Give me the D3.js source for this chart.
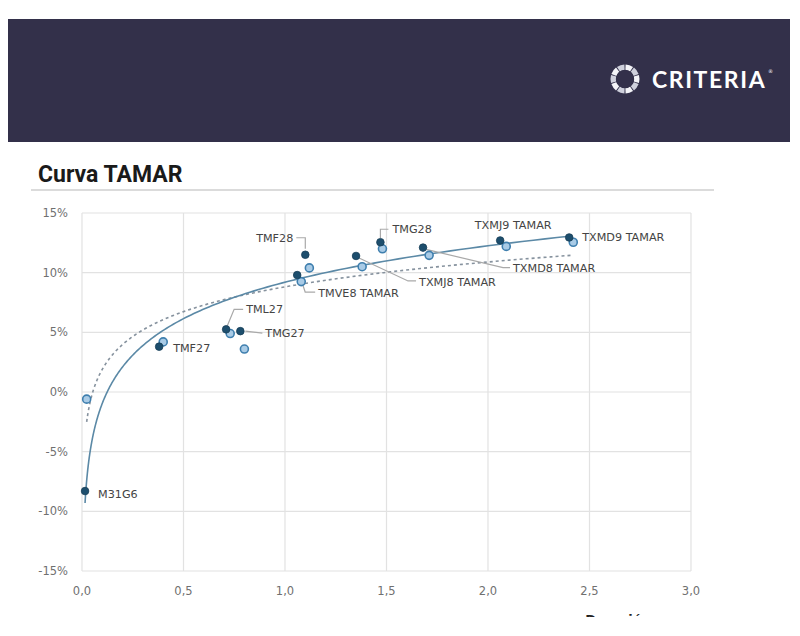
<!DOCTYPE html>
<html>
<head>
    <title>Curva TAMAR</title>
    <script src="https://d3js.org/d3.v7.min.js"></script>
    <style>
        body { margin: 0; background: #fff; }
        text { font-family: "DejaVu Sans", sans-serif; }
        .tick_label { font-size: 11.5px; fill: #707070; }
        .point_label { font-size: 11.2px; fill: #444444; }
        .grid { stroke: #e2e2e2; stroke-width: 1.2; }
        .leader { fill: none; stroke: #a9a9a9; stroke-width: 1.2; }
    </style>
</head>
<body>
<div id="svg_container"></div>
<script>
    const width = 800;
    const height = 636;

    // bond names, same order in both series
    const bond_names = ["M31G6", "TMF27", "TML27", "TMG27", "TMVE8 TAMAR", "TMF28",
                        "TXMJ8 TAMAR", "TMG28", "TXMD8 TAMAR", "TXMJ9 TAMAR", "TXMD9 TAMAR"];

    // series 1 (dark points): duration (years) / yield (%)
    const dark_x = [0.015, 0.38, 0.71, 0.78, 1.06, 1.10, 1.35, 1.47, 1.68, 2.06, 2.40];
    const dark_y = [-8.3, 3.8, 5.25, 5.1, 9.8, 11.5, 11.4, 12.55, 12.1, 12.7, 12.95];

    // series 2 (light points)
    const light_x = [0.023, 0.40, 0.73, 0.80, 1.08, 1.12, 1.38, 1.48, 1.71, 2.09, 2.42];
    const light_y = [-0.6, 4.2, 4.9, 3.6, 9.25, 10.4, 10.5, 12.0, 11.45, 12.2, 12.55];

    const x_ticks = [0, 0.5, 1, 1.5, 2, 2.5, 3];
    const y_ticks = [-15, -10, -5, 0, 5, 10, 15];

    // label placement relative to the dark point (pixels)
    const label_layout = {
        "M31G6":       { dx: 13, dy: 3, anchor: "start", leader: null },
        "TMF27":       { dx: 14, dy: 1, anchor: "start", leader: null },
        "TML27":       { dx: 20, dy: -20, anchor: "start", leader: [[1, -3], [8, -20], [17, -20]] },
        "TMG27":       { dx: 25, dy: 2, anchor: "start", leader: [[5, 0], [22, 2]] },
        "TMVE8 TAMAR": { dx: 21, dy: 18, anchor: "start", leader: [[5, 8], [8, 17], [18, 17]] },
        "TMF28":       { dx: -12, dy: -17, anchor: "end", leader: [[0, -6], [0, -17], [-9, -17]] },
        "TXMJ8 TAMAR": { dx: 63, dy: 26, anchor: "start", leader: [[3, 2], [52, 25], [60, 25]] },
        "TMG28":       { dx: 12, dy: -13, anchor: "start", leader: [[0, -4], [0, -13], [8, -13]] },
        "TXMD8 TAMAR": { dx: 90, dy: 20, anchor: "start", leader: [[4, 2], [80, 20], [87, 20]] },
        "TXMJ9 TAMAR": { dx: 13, dy: -15, anchor: "middle", leader: null },
        "TXMD9 TAMAR": { dx: 13, dy: 0, anchor: "start", leader: null }
    };

    const svg = d3.select("#svg_container")
        .append("svg")
        .attr("id", "svg_target_id")
        .attr("width", width)
        .attr("height", height);

    // ---- header band ----
    svg.append("rect")
        .attr("x", 8).attr("y", 19)
        .attr("width", 782).attr("height", 123)
        .attr("fill", "#33304a");

    // logo ring (twisted segments)
    const logo = svg.append("g").attr("transform", "translate(625,79)");
    const arc = d3.arc().innerRadius(9).outerRadius(14.5);
    const seg_count = 10;
    for (let i = 0; i < seg_count; i++) {
        const a0 = i * 2 * Math.PI / seg_count;
        logo.append("path")
            .attr("d", arc({ startAngle: a0 + 0.04, endAngle: a0 + 2 * Math.PI / seg_count - 0.04 }))
            .attr("fill", i % 2 ? "#cfd0dc" : "#f4f4f8");
    }
    logo.append("circle").attr("r", 9.2).attr("fill", "#33304a");

    svg.append("text")
        .attr("x", 652).attr("y", 88)
        .attr("fill", "#ffffff")
        .style("font-family", "Lato, sans-serif")
        .style("font-size", "23px")
        .style("font-weight", "700")
        .style("letter-spacing", "1.6px")
        .text("CRITERIA");
    svg.append("text")
        .attr("x", 768).attr("y", 73)
        .attr("fill", "#ffffff")
        .style("font-size", "5px")
        .text("®");

    // ---- title ----
    svg.append("text")
        .attr("x", 38).attr("y", 182)
        .attr("fill", "#1a1a1a")
        .style("font-family", "Roboto, sans-serif")
        .style("font-size", "23px")
        .style("font-weight", "700")
        .text("Curva TAMAR");
    svg.append("line")
        .attr("x1", 31).attr("x2", 714)
        .attr("y1", 190).attr("y2", 190)
        .attr("stroke", "#cfcfcf")
        .attr("stroke-width", 1.5);

    // ---- scales ----
    const x = d3.scaleLinear().domain([0, 3]).range([82, 691]);
    const y = d3.scaleLinear().domain([-15, 15]).range([571, 213]);

    const plot = svg.append("g");

    plot.selectAll(".vgrid")
        .data(x_ticks)
        .enter()
        .append("line")
        .attr("class", "grid")
        .attr("x1", d => x(d)).attr("x2", d => x(d))
        .attr("y1", y(15)).attr("y2", y(-15));

    plot.selectAll(".hgrid")
        .data(y_ticks)
        .enter()
        .append("line")
        .attr("class", "grid")
        .attr("x1", x(0)).attr("x2", x(3))
        .attr("y1", d => y(d)).attr("y2", d => y(d));

    const fmt_x = d3.format(".1f");
    plot.selectAll(".xlab")
        .data(x_ticks)
        .enter()
        .append("text")
        .attr("class", "tick_label")
        .attr("x", d => x(d))
        .attr("y", 595)
        .attr("text-anchor", "middle")
        .text(d => fmt_x(d).replace(".", ","));

    plot.selectAll(".ylab")
        .data(y_ticks)
        .enter()
        .append("text")
        .attr("class", "tick_label")
        .attr("x", 68)
        .attr("y", d => y(d) + 4)
        .attr("text-anchor", "end")
        .text(d => d + "%");

    // cut-off axis title at bottom of the crop
    const clip = svg.append("clipPath").attr("id", "bottom_clip");
    clip.append("rect").attr("x", 0).attr("y", 0).attr("width", width).attr("height", 617);
    svg.append("text")
        .attr("x", 618).attr("y", 624)
        .attr("text-anchor", "middle")
        .attr("clip-path", "url(#bottom_clip)")
        .attr("fill", "#222")
        .style("font-size", "13px")
        .style("font-weight", "700")
        .text("Duración");

    // ---- logarithmic trend lines (least squares on ln x) ----
    function log_fit(xs, ys) {
        const lx = xs.map(v => Math.log(v));
        const mx = d3.mean(lx), my = d3.mean(ys);
        let sxy = 0, sxx = 0;
        lx.forEach((v, i) => { sxy += (v - mx) * (ys[i] - my); sxx += (v - mx) * (v - mx); });
        const b = sxy / sxx;
        return { a: my - b * mx, b: b };
    }

    function trend_path(xs, ys) {
        const fit = log_fit(xs, ys);
        const x0 = d3.min(xs), x1 = d3.max(xs);
        const samples = d3.range(0, 201).map(i => x0 * Math.pow(x1 / x0, i / 200));
        return d3.line()
            .x(d => x(d))
            .y(d => y(fit.a + fit.b * Math.log(d)))(samples);
    }

    plot.append("path")
        .attr("d", trend_path(light_x, light_y))
        .attr("fill", "none")
        .attr("stroke", "#86929e")
        .attr("stroke-width", 1.6)
        .attr("stroke-dasharray", "3,3");

    plot.append("path")
        .attr("d", trend_path(dark_x, dark_y))
        .attr("fill", "none")
        .attr("stroke", "#5b89a6")
        .attr("stroke-width", 1.6);

    // ---- leader lines + labels ----
    bond_names.forEach((name, i) => {
        const lay = label_layout[name];
        const px = x(dark_x[i]), py = y(dark_y[i]);
        if (lay.leader) {
            plot.append("path")
                .attr("class", "leader")
                .attr("d", d3.line()(lay.leader.map(p => [px + p[0], py + p[1]])));
        }
        plot.append("text")
            .attr("class", "point_label")
            .attr("x", px + lay.dx)
            .attr("y", py + lay.dy + 4)
            .attr("text-anchor", lay.anchor)
            .text(name);
    });

    // ---- points ----
    plot.selectAll(".light_pt")
        .data(light_x)
        .enter()
        .append("circle")
        .attr("cx", d => x(d))
        .attr("cy", (d, i) => y(light_y[i]))
        .attr("r", 4)
        .attr("fill", "#a9cbe6")
        .attr("stroke", "#3f7fae")
        .attr("stroke-width", 1.6);

    plot.selectAll(".dark_pt")
        .data(dark_x)
        .enter()
        .append("circle")
        .attr("cx", d => x(d))
        .attr("cy", (d, i) => y(dark_y[i]))
        .attr("r", 3.8)
        .attr("fill", "#1d4e6d")
        .attr("stroke", "#163d57")
        .attr("stroke-width", 0.8);
</script>
</body>
</html>
